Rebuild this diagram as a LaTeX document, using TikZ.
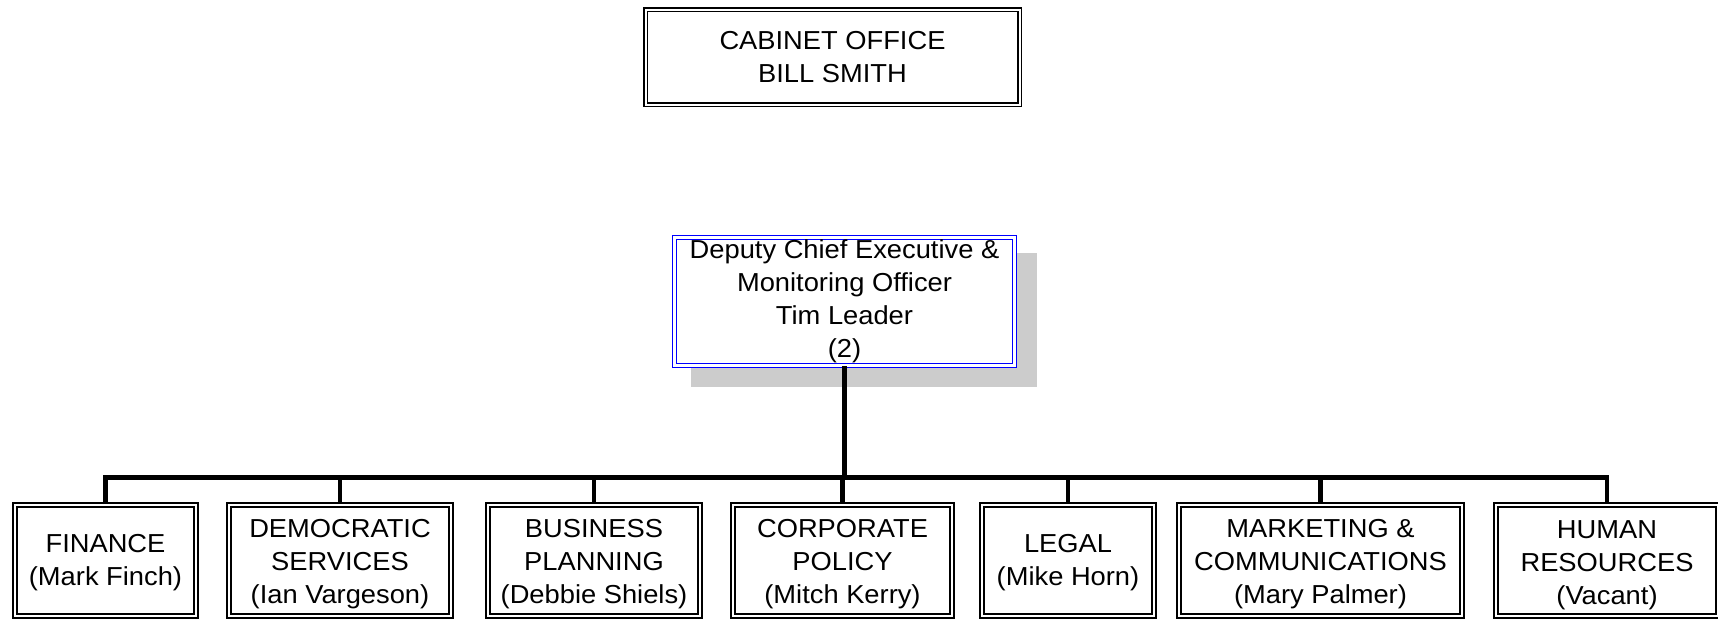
\documentclass[tikz,border=0pt]{standalone}
\usepackage{fontspec}
\setmainfont{Liberation Sans}[FakeStretch=1.05]
\begin{document}
\begin{tikzpicture}[x=1pt,y=-1pt,
  txt/.style={align=center, inner sep=0pt, font=\fontsize{26}{33}\selectfont},
  unitbox/.style={draw=black, line width=2pt, double=white, double distance=2pt, fill=white, inner sep=0pt, minimum height=111pt},
  topbox/.style={txt, draw=black, line width=1.5pt, double=white, double distance=2pt, fill=white},
  depbox/.style={txt, draw=blue, line width=1.2pt, double=white, double distance=2.4pt, fill=white},
  conn/.style={draw=black, line width=4.5pt},
  shadowfill/.style={fill=black!20}
]
\useasboundingbox (0,0) rectangle (1718,621);

% top box
\node[topbox, minimum width=374pt, minimum height=95pt] (cab) at (832.5,57) {CABINET OFFICE\\BILL SMITH};

% deputy box with shadow
\fill[shadowfill] (691,253) rectangle (1037,387);
\node[depbox, minimum width=340pt, minimum height=128pt] (dep) at (844.5,301.5)
  {Deputy Chief Executive \&\\Monitoring Officer\\Tim Leader\\(2)};

% unit boxes
\node[unitbox, minimum width=181pt] (fin) at (105.5,560.5) {};
\node[unitbox, minimum width=222pt] (dem) at (340,560.5) {};
\node[unitbox, minimum width=212pt] (bus) at (594,560.5) {};
\node[unitbox, minimum width=219pt] (cor) at (842.5,560.5) {};
\node[unitbox, minimum width=172pt] (leg) at (1068,560.5) {};
\node[unitbox, minimum width=283pt] (mkt) at (1320.5,560.5) {};
\node[unitbox, minimum width=222pt] (hr) at (1607,560.5) {};

\node[txt] (fin-t) at ([yshift=-2pt]fin.center) {FINANCE\\(Mark Finch)};
\node[txt] (dem-t) at ([yshift=-4pt]dem.center) {DEMOCRATIC\\SERVICES\\(Ian Vargeson)};
\node[txt] (bus-t) at ([yshift=-4pt]bus.center) {BUSINESS\\PLANNING\\(Debbie Shiels)};
\node[txt] (cor-t) at ([yshift=-4pt]cor.center) {CORPORATE\\POLICY\\(Mitch Kerry)};
\node[txt] (leg-t) at ([yshift=-2pt]leg.center) {LEGAL\\(Mike Horn)};
\node[txt] (mkt-t) at ([yshift=-4pt]mkt.center) {MARKETING \&\\COMMUNICATIONS\\(Mary Palmer)};
\node[txt] (hr-t) at ([yshift=-5pt]hr.center) {HUMAN\\RESOURCES\\(Vacant)};

% connectors
\coordinate (busy) at (844.5,477.5);
\draw[conn] (dep.south) -- (busy);
\draw[conn] (fin.north) -- (fin.north |- busy) -- (hr.north |- busy) -- (hr.north);
\foreach \n in {dem,bus,cor,leg,mkt}
  \draw[conn] (\n.north |- busy) -- (\n.north);
\end{tikzpicture}
\end{document}
